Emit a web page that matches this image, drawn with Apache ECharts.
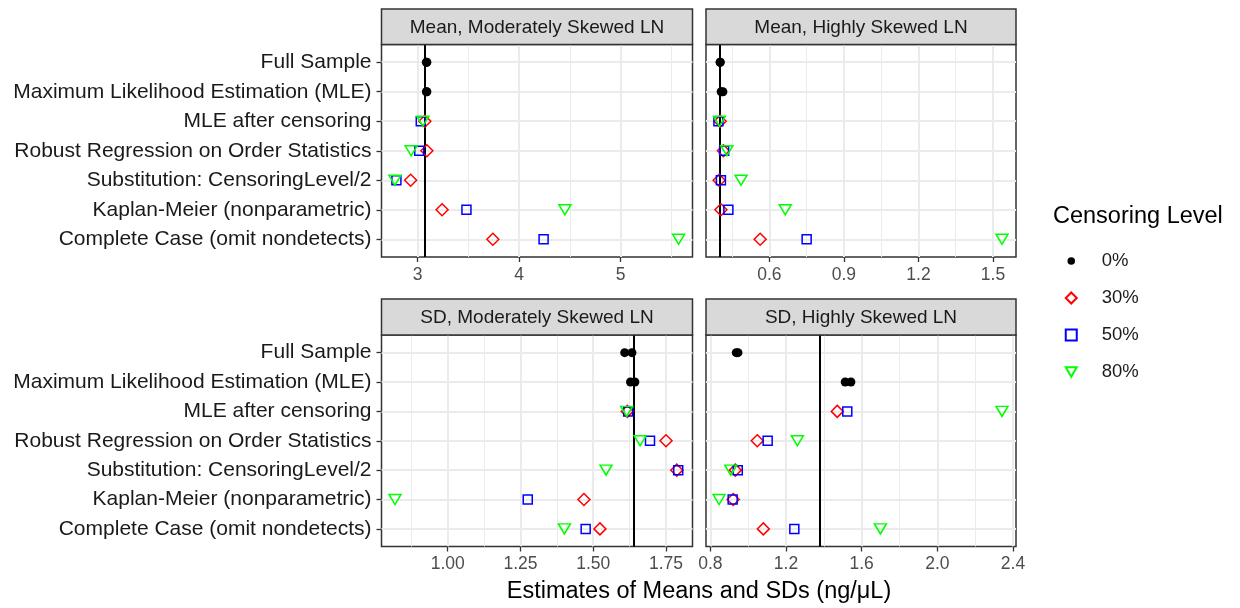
<!DOCTYPE html>
<html><head><meta charset="utf-8">
<script src="https://cdn.jsdelivr.net/npm/echarts@6/dist/echarts.min.js"></script>
<style>html,body{margin:0;padding:0;background:#fff}#c{width:1240px;height:608px}</style>
</head><body><div id="c"></div>
<script>
// ---------- DATA ----------
const categories = [
  'Full Sample',
  'Maximum Likelihood Estimation (MLE)',
  'MLE after censoring',
  'Robust Regression on Order Statistics',
  'Substitution: CensoringLevel/2',
  'Kaplan-Meier (nonparametric)',
  'Complete Case (omit nondetects)'
];
const levels = ['0%', '30%', '50%', '80%'];
const panelTitles = ['Mean, Moderately Skewed LN', 'Mean, Highly Skewed LN', 'SD, Moderately Skewed LN', 'SD, Highly Skewed LN'];
const xTitle = 'Estimates of Means and SDs (ng/\u03bcL)';
const legendTitle = 'Censoring Level';

// Mean, Moderately Skewed LN
const meanMod0 = [[3.085, 3.09], [3.085, 3.09]];
const meanMod30 = [null, null, 3.07, 3.09, 2.93, 3.24, 3.74];
const meanMod50 = [null, null, 3.03, 3.015, 2.79, 3.48, 4.24];
const meanMod80 = [null, null, 3.05, 2.935, 2.775, 4.45, 5.57];
const meanModRef = 3.072;
const meanModTicks = ['3', '4', '5'];
const meanModLim = [2.643, 5.707];

// Mean, Highly Skewed LN
const meanHigh0 = [[0.402, 0.402], [0.406, 0.413]];
const meanHigh30 = [null, null, 0.402, 0.415, 0.398, 0.405, 0.563];
const meanHigh50 = [null, null, 0.395, 0.418, 0.405, 0.435, 0.750];
const meanHigh80 = [null, null, 0.399, 0.429, 0.486, 0.664, 1.536];
const meanHighRef = 0.402;
const meanHighTicks = ['0.6', '0.9', '1.2', '1.5'];
const meanHighLim = [0.345, 1.5925];

// SD, Moderately Skewed LN
const sdMod0 = [[1.608, 1.633], [1.628, 1.643]];
const sdMod30 = [null, null, 1.617, 1.750, 1.787, 1.468, 1.523];
const sdMod50 = [null, null, 1.620, 1.695, 1.792, 1.275, 1.474];
const sdMod80 = [null, null, 1.615, 1.661, 1.544, 0.819, 1.401];
const sdModRef = 1.642;
const sdModTicks = ['1.00', '1.25', '1.50', '1.75'];
const sdModLim = [0.7726, 1.841];

// SD, Highly Skewed LN
const sdHigh0 = [[0.937, 0.946], [1.513, 1.543]];
const sdHigh30 = [null, null, 1.471, 1.048, 0.932, 0.921, 1.080];
const sdHigh50 = [null, null, 1.524, 1.103, 0.945, 0.918, 1.244];
const sdHigh80 = [null, null, 2.342, 1.260, 0.908, 0.846, 1.699];
const sdHighRef = 1.376;
const sdHighTicks = ['0.8', '1.2', '1.6', '2.0', '2.4'];
const sdHighLim = [0.777, 2.416];

// ---------- BUILD ----------
const panels = [
  {zero: meanMod0, s: [meanMod30, meanMod50, meanMod80], ref: meanModRef, ticks: meanModTicks, lim: meanModLim},
  {zero: meanHigh0, s: [meanHigh30, meanHigh50, meanHigh80], ref: meanHighRef, ticks: meanHighTicks, lim: meanHighLim},
  {zero: sdMod0, s: [sdMod30, sdMod50, sdMod80], ref: sdModRef, ticks: sdModTicks, lim: sdModLim},
  {zero: sdHigh0, s: [sdHigh30, sdHigh50, sdHigh80], ref: sdHighRef, ticks: sdHighTicks, lim: sdHighLim}
];

const FONT = '"Liberation Sans", Arial, Helvetica, sans-serif';
const gridBoxes = [
  {left: 381.5, top: 44.5, width: 311, height: 212.5},
  {left: 706, top: 44.5, width: 310, height: 212.5},
  {left: 381.5, top: 335, width: 311, height: 211.5},
  {left: 706, top: 335, width: 310, height: 211.5}
];
const rowVals = categories.map((c, i) => i + 1);

const styles = [
  {symbol: 'circle', symbolSize: 9, symbolRotate: 0, itemStyle: {color: '#000000', opacity: 1}},
  {symbol: 'diamond', symbolSize: 12, symbolRotate: 0, itemStyle: {color: 'rgba(0,0,0,0)', borderColor: '#ff0000', borderWidth: 1.5, opacity: 1}},
  {symbol: 'rect', symbolSize: 9, symbolRotate: 0, itemStyle: {color: 'rgba(0,0,0,0)', borderColor: '#0000ff', borderWidth: 1.5, opacity: 1}},
  {symbol: 'triangle', symbolSize: [12, 10], symbolRotate: 180, itemStyle: {color: 'rgba(0,0,0,0)', borderColor: '#00ff00', borderWidth: 1.5, opacity: 1}}
];

const grid = [], xAxis = [], yAxis = [], series = [], graphic = [];

panels.forEach((p, i) => {
  grid.push(Object.assign({show: true, borderColor: '#333333', borderWidth: 1.5, backgroundColor: '#ffffff', containLabel: false}, gridBoxes[i]));
  const tv = p.ticks.map(parseFloat);
  const step = tv[1] - tv[0];
  const minor = [];
  for (let k = -1; k < tv.length; k++) {
    const m = tv[0] + (k + 0.5) * step;
    if (m > p.lim[0] && m < p.lim[1]) minor.push(+m.toFixed(6));
  }
  xAxis.push({
    type: 'value', gridIndex: i, min: p.lim[0], max: p.lim[1],
    axisLine: {show: false},
    axisTick: {show: true, length: 5, lineStyle: {color: '#333333', width: 1.3}, customValues: tv},
    axisLabel: {show: true, customValues: tv, color: '#4d4d4d', fontSize: 17.5, fontFamily: FONT, margin: 9,
      formatter: v => { const l = p.ticks.find(t => Math.abs(parseFloat(t) - v) < 1e-9); return l == null ? '' : l; }},
    splitLine: {show: true, lineStyle: {color: '#ebebeb', width: 2}}
  });
  xAxis.push({
    type: 'value', gridIndex: i, min: p.lim[0], max: p.lim[1], position: 'bottom',
    axisLine: {show: false},
    axisTick: {show: false, customValues: minor},
    axisLabel: {show: false, customValues: minor},
    splitLine: {show: true, lineStyle: {color: '#ebebeb', width: 1}}
  });
  const left = i % 2 === 0;
  yAxis.push({
    type: 'value', gridIndex: i, inverse: true, min: 0.4, max: categories.length + 0.6,
    axisLine: {show: false},
    axisTick: {show: left, length: 5, lineStyle: {color: '#333333', width: 1.3}, customValues: rowVals},
    axisLabel: {show: left, customValues: rowVals, color: '#1a1a1a', fontSize: 21, fontFamily: FONT, margin: 10,
      formatter: v => categories[Math.round(v) - 1] || ''},
    splitLine: {show: true, lineStyle: {color: '#ebebeb', width: 2}}
  });

  const zeroData = [];
  p.zero.forEach((vals, row) => vals.forEach(v => zeroData.push([v, row + 1])));
  const allData = [zeroData].concat(p.s.map(arr => arr.map((v, row) => v == null ? null : [v, row + 1]).filter(Boolean)));
  allData.forEach((d, j) => {
    const s = Object.assign({
      type: 'scatter', name: levels[j], xAxisIndex: 2 * i, yAxisIndex: i, data: d,
      silent: true, z: 3 + j
    }, JSON.parse(JSON.stringify(styles[j])));
    if (j === 0) {
      s.markLine = {
        silent: true, symbol: ['none', 'none'], label: {show: false},
        lineStyle: {color: '#000000', width: 2, type: 'solid', opacity: 1},
        data: [{xAxis: p.ref}], z: 2
      };
    }
    series.push(s);
  });

  // strip header
  const g = gridBoxes[i];
  const stripTop = i < 2 ? 9 : 299;
  graphic.push({type: 'rect', silent: true, z: 10,
    shape: {x: g.left, y: stripTop, width: g.width, height: g.top - stripTop},
    style: {fill: '#d9d9d9', stroke: '#333333', lineWidth: 1.5}});
  graphic.push({type: 'text', silent: true, z: 11,
    x: g.left + g.width / 2, y: (stripTop + g.top) / 2 + 1,
    style: {text: panelTitles[i], fill: '#1a1a1a', font: '19px ' + FONT, textAlign: 'center', textVerticalAlign: 'middle'}});
});

graphic.push({type: 'text', silent: true, x: 699, y: 592,
  style: {text: xTitle, fill: '#000000', font: '23.5px ' + FONT, textAlign: 'center', textVerticalAlign: 'middle'}});
graphic.push({type: 'text', silent: true, x: 1053, y: 217,
  style: {text: legendTitle, fill: '#000000', font: '23.5px ' + FONT, textAlign: 'left', textVerticalAlign: 'middle'}});

const chart = echarts.init(document.getElementById('c'), null, {renderer: 'canvas'});
chart.setOption({
  animation: false,
  backgroundColor: '#ffffff',
  grid, xAxis, yAxis, series, graphic,
  legend: {
    orient: 'vertical', left: 1064, top: 251.5, padding: 0, itemWidth: 11, itemHeight: 11, itemGap: 18,
    selectedMode: false,
    data: [
      {name: '0%', itemStyle: {color: '#000000', borderColor: '#ffffff', borderWidth: 3.5, opacity: 1}},
      {name: '30%'}, {name: '50%'},
      {name: '80%', icon: 'path://M0,0 L10,0 L5,8.66 Z'}
    ],
    textStyle: {fontSize: 18.5, color: '#1a1a1a', fontFamily: FONT, padding: [0, 0, 0, 20]}
  }
});
</script>
</body></html>
